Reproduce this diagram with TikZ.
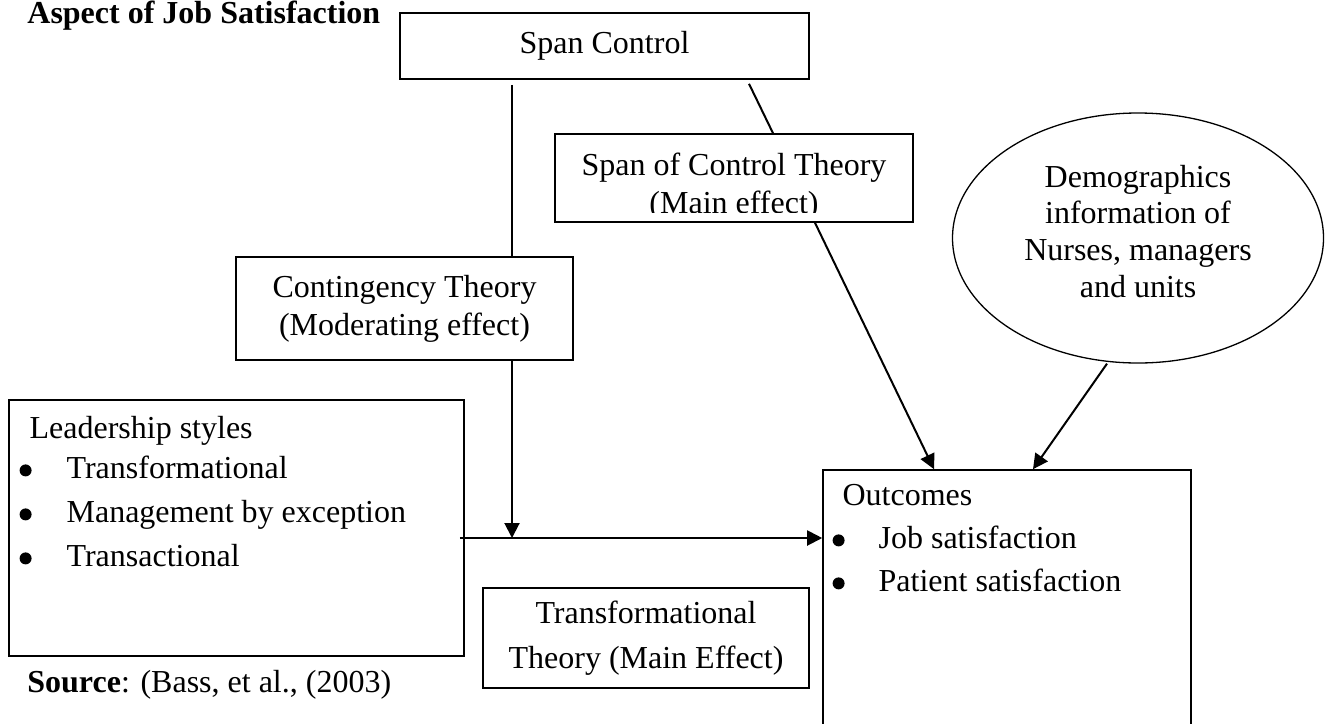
\documentclass[tikz,border=0pt]{standalone}
\usepackage{fontspec}
\setmainfont{Liberation Serif}
\usetikzlibrary{arrows.meta,shapes.geometric}

% list bullet, a bit heavier than the font's own
\newcommand{\blt}{\tikz[baseline]\fill (0pt,4.2pt) circle (3pt);}

\begin{document}
\begin{tikzpicture}[x=0.5pt, y=-0.5pt,
    every node/.style={font=\fontsize{16pt}{19pt}\selectfont},
    box/.style={draw, line width=0.8pt, inner sep=0pt},
    link/.style={line width=1pt},
    arr/.style={line width=1pt, -{Triangle[length=7.5pt, width=7.5pt]}}]

    % canvas
    \useasboundingbox (0,0) rectangle (1325,723);
    \clip (0,0) rectangle (1325,723);

    % Title
    \node[anchor=base west, inner sep=0pt, font=\fontsize{16pt}{19pt}\selectfont\bfseries] (title) at (27,23) {Aspect of Job Satisfaction};

    % Span control
    \node[box, minimum width=204.5pt, minimum height=33pt] (span) at (604.5,46) {Span Control};

    % Span of control theory (second line runs into the bottom edge)
    \node[box, minimum width=179pt, minimum height=44pt] (soc) at (734,178) {};
    \begin{scope}
        \clip ([yshift=5pt]soc.south west) rectangle (soc.north east);
        \node[align=center, inner sep=0pt] (soclabel) at ([yshift=-4.25pt]soc.center) {Span of Control Theory\\(Main effect)};
    \end{scope}

    % Contingency theory
    \node[box, align=center, minimum width=168.5pt, minimum height=51.5pt] (cont) at (404.5,308.5) {Contingency Theory\\(Moderating effect)};

    % Demographics
    \node[draw, ellipse, line width=0.65pt, inner sep=0pt, align=center, minimum width=185.5pt, minimum height=125pt,
          text depth=7pt, font=\fontsize{16pt}{18.3pt}\selectfont] (demo) at (1138,238)
          {Demographics\\information of\\Nurses, managers\\and units};

    % Leadership styles
    \node[box, minimum width=227.5pt, minimum height=128pt] (lead) at (236.5,528) {};
    \node[anchor=north west, inner sep=0pt, align=left, font=\fontsize{16pt}{22pt}\selectfont] (leadlist)
          at ([xshift=5.5pt, yshift=-8.5pt]lead.north west)
          {\hspace*{5pt}Leadership styles\\[-2pt]
           \makebox[23.5pt][l]{\blt}Transformational\\
           \makebox[23.5pt][l]{\blt}Management by exception\\
           \makebox[23.5pt][l]{\blt}Transactional};

    % Outcomes
    \node[box, minimum width=184pt, minimum height=150pt] (outc) at (1007,620) {};
    \node[anchor=north west, inner sep=0pt, align=left, font=\fontsize{16pt}{21.5pt}\selectfont] (outclist)
          at ([xshift=5pt, yshift=-7.5pt]outc.north west)
          {\hspace*{5pt}Outcomes\\
           \makebox[23pt][l]{\blt}Job satisfaction\\
           \makebox[23pt][l]{\blt}Patient satisfaction};

    % Transformational theory
    \node[box, align=center, minimum width=163pt, minimum height=50pt, font=\fontsize{16pt}{22.5pt}\selectfont] (trans) at (646,638)
          {Transformational\\Theory (Main Effect)};

    % Source
    \node[anchor=base west, inner sep=0pt] (src) at (27,692) {\textbf{Source}: (Bass, et al., (2003)};

    % where the moderating arrow meets the main path
    \coordinate (junc) at (512,538);

    % connectors
    \draw[link] ([yshift=-2.5pt]span.south -| junc) -- (cont.north -| junc);
    \draw[arr] (cont.south -| junc) -- (junc);
    \draw[arr] ([xshift=-2.5pt]lead.east |- junc) -- (outc.west |- junc);
    \draw[link] ([xshift=72.25pt, yshift=-2pt]span.south) -- ([xshift=19.5pt]soc.north);
    \draw[arr] ([xshift=40.5pt]soc.south) -- ([xshift=-36.5pt]outc.north);
    \draw[arr] ([xshift=-15.5pt]demo.south) -- ([xshift=13pt]outc.north);
\end{tikzpicture}
\end{document}
